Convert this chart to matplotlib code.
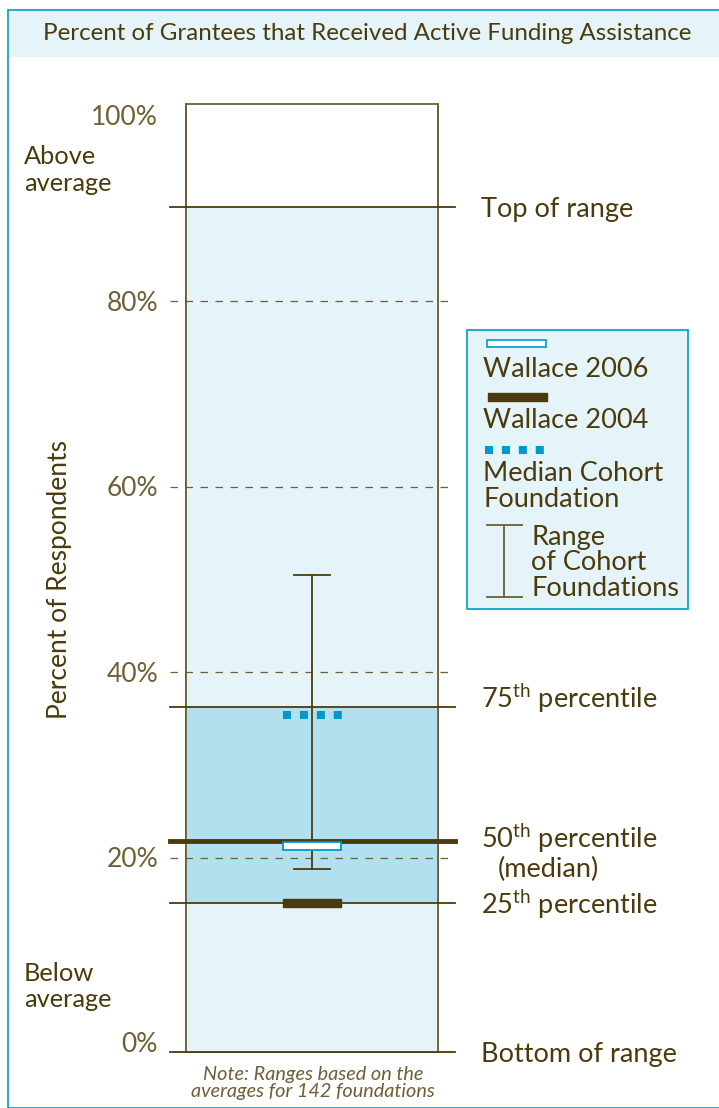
import matplotlib
matplotlib.use("Agg")
import matplotlib.pyplot as plt
from matplotlib.patches import Rectangle

# values (percent of respondents)
ticks = [0, 20, 40, 60, 80, 100]
tick_labels = ["0%", "20%", "40%", "60%", "80%", "100%"]
range_bottom = -1.0
range_top = 90.2
pct_25 = 15.1
pct_50 = 21.8
pct_75 = 36.2
box_top = 101.3
wallace_2006 = 21.3
wallace_2004 = 15.1
median_cohort = 35.4
cohort_low = 18.8
cohort_high = 50.5

brown = "#4b3b0c"
olive = "#6e5f35"
light = "#e4f4f9"
mid = "#b3e0ee"
blue = "#0099cc"

plt.rcParams['font.family'] = ['Lato', 'DejaVu Sans']

fig = plt.figure(figsize=(7.19, 11.08), dpi=100)
ax = fig.add_axes([0, 0, 1, 1])
ax.set_zorder(2)
ax.set_xlim(0, 719)
ax.set_ylim(-7.01, 112.5)
ax.axis("off")

# outer frame + title band (figure coords)
fig.patches.append(Rectangle((8/719, 0), 720/719, 1 - 10/1108, transform=fig.transFigure,
                             facecolor="white", edgecolor=blue, lw=1.2, zorder=0))
fig.patches.append(Rectangle((9/719, 1 - 57/1108), 720/719, 46/1108, transform=fig.transFigure,
                             facecolor=light, edgecolor="none", zorder=0))
fig.text(367/719, 1 - 34/1108, "Percent of Grantees that Received Active Funding Assistance",
         ha="center", va="center", fontsize=17.4, color=brown)

x0, x1 = 186, 438
# background bands
ax.add_patch(Rectangle((x0, range_bottom), x1 - x0, box_top - range_bottom,
                       facecolor="white", edgecolor=olive, lw=1.3, zorder=1))
ax.add_patch(Rectangle((x0, range_bottom), x1 - x0, range_top - range_bottom,
                       facecolor=light, edgecolor="none", zorder=1.1))
ax.add_patch(Rectangle((x0, pct_25), x1 - x0, pct_75 - pct_25,
                       facecolor=mid, edgecolor="none", zorder=1.2))
ax.plot([x0, x0], [range_bottom, box_top], color=olive, lw=1.3, zorder=2)
ax.plot([x1, x1], [range_bottom, box_top], color=olive, lw=1.3, zorder=2)

# gridlines
for t in ticks[1:-1]:
    ax.plot([170, 455], [t, t], color=olive, lw=0.9, ls=(0, (6, 6)), zorder=2)
for t, lab in zip(ticks, tick_labels):
    ax.text(158, t - 0.2, lab, ha="right", va="center", fontsize=19, color=olive)

# range lines
for v in [range_top, pct_75, pct_25, range_bottom]:
    ax.plot([170, 455], [v, v], color=brown, lw=1.3, zorder=3)
ax.plot([170, 455], [pct_50, pct_50], color=brown, lw=3.5, zorder=4)

# cohort range
xc = 312
ax.plot([xc, xc], [cohort_low, cohort_high], color=brown, lw=1.3, zorder=3)
ax.plot([294, 330], [cohort_high, cohort_high], color=brown, lw=1.3, zorder=3)
ax.plot([294, 330], [cohort_low, cohort_low], color=brown, lw=1.3, zorder=3)

# median cohort
ax.plot([283, 343], [median_cohort, median_cohort], color=blue, lw=5.8,
        ls=(0, (1, 1.1)), solid_capstyle="butt", dash_capstyle="butt", zorder=5)
# wallace 2006
ax.add_patch(Rectangle((283, wallace_2006 - 0.43), 58, 0.86, facecolor="white",
                       edgecolor=blue, lw=1.3, zorder=6))
# wallace 2004
ax.add_patch(Rectangle((283, wallace_2004 - 0.48), 58, 0.96, facecolor=brown,
                       edgecolor=brown, lw=1, zorder=6))

# right labels
rfs = 19.5
ax.text(481, range_top - 0.3, "Top of range", va="center", fontsize=rfs, color=brown)
ax.text(481, pct_75 + 1.0, "75$^{\\mathregular{th}}$ percentile", va="center", fontsize=rfs, color=brown)
ax.text(481, pct_50 + 0.3, "50$^{\\mathregular{th}}$ percentile", va="center", fontsize=rfs, color=brown)
ax.text(498, 18.7, "(median)", va="center", fontsize=rfs, color=brown)
ax.text(481, pct_25 - 0.1, "25$^{\\mathregular{th}}$ percentile", va="center", fontsize=rfs, color=brown)
ax.text(481, range_bottom - 0.2, "Bottom of range", va="center", fontsize=rfs, color=brown)

# left notes
ax.text(24, 94.2, "Above\naverage", va="center", fontsize=18.3, color=brown, linespacing=1.2)
ax.text(24, 6.1, "Below\naverage", va="center", fontsize=18.3, color=brown, linespacing=1.2)
ax.text(60, 50, "Percent of Respondents", rotation=90, ha="center", va="center",
        fontsize=19, color=brown)
ax.text(313, -4.3, "Note: Ranges based on the\naverages for 142 foundations", ha="center",
        va="center", fontsize=14.3, style="italic", color=olive, linespacing=1.05)

# legend
lfs = 19.5
ax.add_patch(Rectangle((467, 46.8), 221, 30.1, facecolor=light, edgecolor=blue, lw=1.2, zorder=2))
ax.add_patch(Rectangle((487, 75.1), 59, 0.75, facecolor="white", edgecolor=blue, lw=1.2, zorder=3))
ax.text(483, 72.6, "Wallace 2006", va="center", fontsize=lfs, color=brown)
ax.add_patch(Rectangle((488, 69.3), 59, 0.85, facecolor=brown, edgecolor=brown, lw=1, zorder=3))
ax.text(483, 67.1, "Wallace 2004", va="center", fontsize=lfs, color=brown)
ax.plot([485, 548], [64.0, 64.0], color=blue, lw=5.8, ls=(0, (1, 1.1)),
        dash_capstyle="butt", zorder=3)
ax.text(483, 60.0, "Median Cohort\nFoundation", va="center", fontsize=lfs, color=brown,
        linespacing=1.07)
ax.plot([504, 504], [48.1, 55.9], color=olive, lw=1.3, zorder=3)
ax.plot([487, 522], [55.9, 55.9], color=olive, lw=1.3, zorder=3)
ax.plot([487, 522], [48.1, 48.1], color=olive, lw=1.3, zorder=3)
ax.text(531, 51.8, "Range\nof Cohort\nFoundations", va="center", fontsize=lfs, color=brown,
        linespacing=1.03)

fig.savefig("out.png", dpi=100)
